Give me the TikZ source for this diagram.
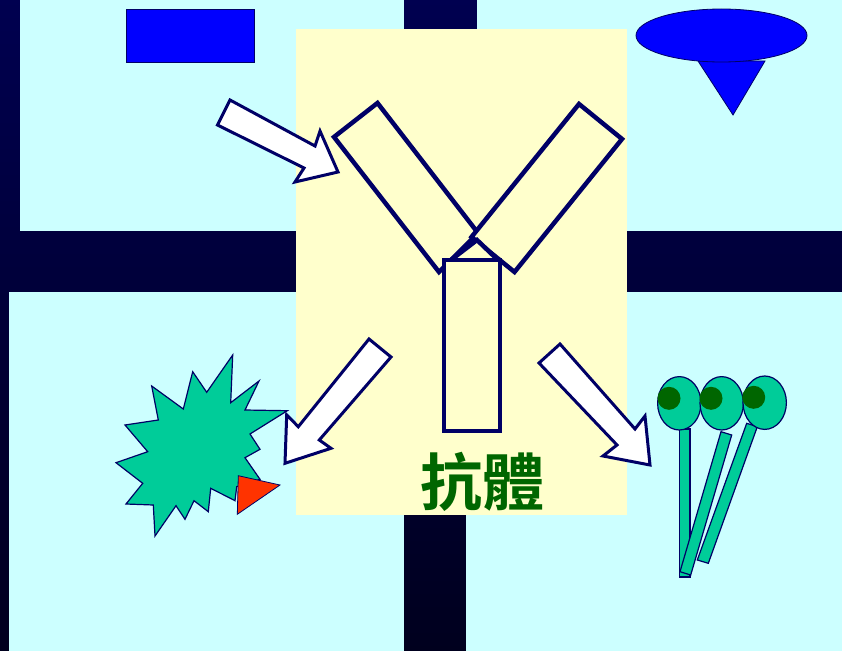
\documentclass[tikz,border=0pt]{standalone}
\usepackage{fontspec}
\newfontfamily\cjk{Noto Sans CJK TC Bold}
\definecolor{navy}{HTML}{000066}
\definecolor{bartop}{HTML}{000050}
\definecolor{barbot}{HTML}{00001E}
\definecolor{panel}{HTML}{CCFFFF}
\definecolor{cream}{HTML}{FFFFCC}
\definecolor{sea}{HTML}{00CC99}
\definecolor{leaf}{HTML}{006600}
\definecolor{flame}{HTML}{FF3300}
\tikzset{
  panelbox/.style={fill=panel},
  blockarrow/.style={fill=white, draw=navy, line width=3pt, line join=miter},
  yarm/.style={fill=cream, draw=navy, line width=4.5pt, line join=miter},
  solidblue/.style={fill=blue, draw=navy, line width=0.8pt},
  greenpart/.style={fill=sea, draw=navy, line width=1.2pt},
}
\begin{document}
\begin{tikzpicture}[x=1pt,y=-1pt]
\useasboundingbox (0,0) rectangle (842,650);
% dark frame with a slight vertical gradient
\begin{scope}[y=1pt]
  \shade[top color=bartop, bottom color=barbot] (0,-652) rectangle (844,2);
\end{scope}
% four light panels
\fill[panelbox] (20,-2) rectangle (404,231);
\fill[panelbox] (477,-2) rectangle (844,231);
\fill[panelbox] (9,292) rectangle (404,652);
\fill[panelbox] (466,292) rectangle (844,652);
% central panel
\fill[cream] (296,29) rectangle (627,515);

% blue block and spinning top
\draw[solidblue] (126,9) rectangle (254,62);
\draw[solidblue] (698,61) -- (765,61) -- (733,115) -- cycle;
\draw[solidblue] (721.5,35.5) ellipse [x radius=85.5, y radius=26.5];

% antibody: two arms, hinge and stem
\draw[yarm] (334,137) -- (377.5,103) -- (478,233) -- (439,272) -- cycle;
\draw[yarm] (579,104) -- (622,139) -- (514.5,272) -- (471.5,237) -- cycle;
\draw[yarm] (447,263) -- (477,240) -- (500,262);
\draw[yarm] (444,260) rectangle (500,431);

% block arrows
\draw[blockarrow] (230,100) -- (315,146) -- (320,131) -- (338,172) -- (295,182) -- (304,168) -- (217.5,125) -- cycle;
\draw[blockarrow] (369,339) -- (391,357) -- (319.3,440) -- (331,448.3) -- (285,463.3) -- (286.7,415) -- (298.3,426.7) -- cycle;
\draw[blockarrow] (560,344) -- (635,429) -- (645,416) -- (650,465) -- (603,456) -- (617,445) -- (539,363) -- cycle;

% spiky antigen with a red marker
\draw[greenpart] (232.7,355) -- (230.7,402.7) -- (259,381) -- (245,410) -- (287.3,410.7)
  -- (250,434) -- (260,449.3) -- (245,457.7) -- (260,479.3) -- (236.7,486.7)
  -- (235,500.7) -- (210.7,488.3) -- (208.3,511.7) -- (194,500.7) -- (185,519.3)
  -- (176,505.7) -- (155,536) -- (153.3,505) -- (126,504) -- (142.7,483.3)
  -- (116,462.7) -- (147.7,451.7) -- (125,425) -- (158.3,420) -- (151.7,386)
  -- (183.3,409) -- (192.7,371.7) -- (206.7,392.3) -- cycle;
\draw[fill=flame, draw=navy, line width=0.8pt] (238.3,475.7) -- (280,485) -- (237.3,514.3) -- cycle;

% three lollipops
\draw[greenpart] (679.3,429) rectangle (690,577);
\draw[greenpart] (721,431.7) -- (731.7,435) -- (690.7,575) -- (680,571.7) -- cycle;
\draw[greenpart] (746.7,423.3) -- (757.3,426.7) -- (708.3,563.3) -- (697.3,560) -- cycle;
\draw[greenpart] (679.3,403.3) ellipse [x radius=21.7, y radius=26.7];
\draw[greenpart] (721.7,403.3) ellipse [x radius=21.7, y radius=26.7];
\draw[greenpart] (764.7,402.7) ellipse [x radius=21.7, y radius=26.7];
\fill[leaf] (669,398.3) circle [radius=11.5];
\fill[leaf] (711,398.3) circle [radius=11.5];
\fill[leaf] (753.7,397.3) circle [radius=11.5];

% caption
\node[text=leaf, font=\cjk\fontsize{62}{62}\selectfont, inner sep=0pt] (caption) at (482,482) {抗體};
\end{tikzpicture}
\end{document}
